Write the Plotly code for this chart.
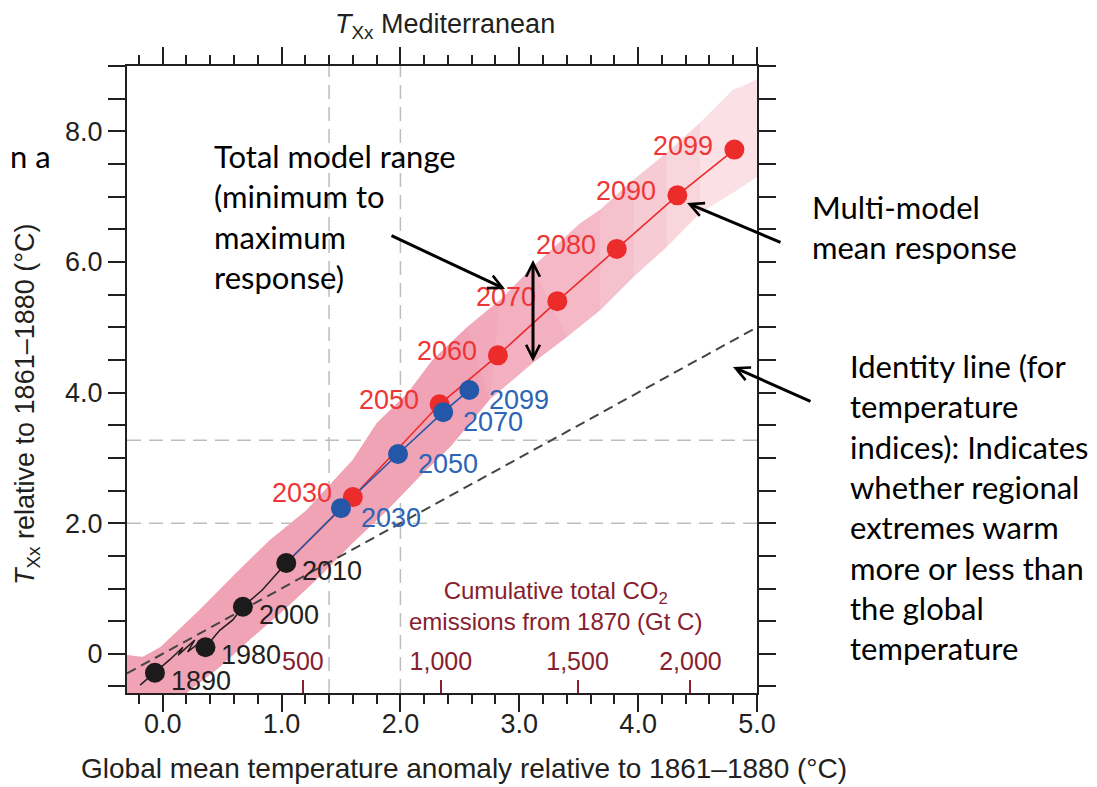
import plotly.graph_objects as go

# ---------------- data ----------------
hist_years = ["1890", "1980", "2000", "2010"]
hist_x = [-0.065, 0.36, 0.675, 1.04]
hist_y = [-0.29, 0.10, 0.72, 1.39]
hist_line_x = [-0.19, -0.065, 0.06, 0.17, 0.13, 0.27, 0.21, 0.31, 0.36, 0.48, 0.59, 0.675, 0.84, 1.04]
hist_line_y = [-0.48, -0.29, -0.09, 0.10, -0.02, 0.21, 0.03, 0.17, 0.10, 0.36, 0.52, 0.72, 0.98, 1.39]

rcp85_years = ["2030", "2050", "2060", "2070", "2080", "2090", "2099"]
rcp85_x = [1.60, 2.33, 2.82, 3.32, 3.82, 4.33, 4.81]
rcp85_y = [2.40, 3.82, 4.57, 5.40, 6.20, 7.02, 7.72]

rcp45_years = ["2030", "2050", "2070", "2099"]
rcp45_x = [1.50, 1.98, 2.36, 2.58]
rcp45_y = [2.23, 3.06, 3.70, 4.04]

band_upper_x = [-0.30, -0.17, -0.02, 0.31, 0.62, 0.90, 1.21, 1.47, 1.60, 1.80, 2.06, 2.27, 2.56, 2.84,
                3.11, 3.51, 3.68, 3.96, 4.24, 4.52, 4.80, 4.90, 5.00]
band_upper_y = [-0.02, -0.05, 0.10, 0.67, 1.24, 1.74, 2.20, 2.71, 2.97, 3.53, 3.99, 4.50, 5.00, 5.42,
                5.92, 6.59, 6.80, 7.26, 7.67, 8.13, 8.64, 8.71, 8.80]
band_lower_x = [5.00, 4.80, 4.52, 4.24, 3.96, 3.68, 3.40, 3.11, 2.75, 2.42, 2.16, 1.89, 1.60, 1.32,
                1.05, 0.76, 0.48, 0.20, -0.30]
band_lower_y = [7.30, 7.06, 6.75, 6.23, 5.77, 5.26, 4.85, 4.45, 3.89, 3.17, 2.71, 2.20, 1.70, 1.18,
                0.72, 0.26, -0.20, -0.60, -0.60]
band_shade_cuts = [4.6, 4.3, 4.0, 3.7, 3.4, 3.1, 2.8]

identity_x = [-0.30, 5.00]

co2_tick_labels = ["500", "1,000", "1,500", "2,000"]
co2_tick_pos = [1.18, 2.34, 3.49, 4.44]

x_tick_vals = [0, 1, 2, 3, 4, 5]
x_tick_text = ["0.0", "1.0", "2.0", "3.0", "4.0", "5.0"]
y_tick_vals = [0, 2, 4, 6, 8]
y_tick_text = ["0", "2.0", "4.0", "6.0", "8.0"]

ref_x = [1.4, 2.0]
ref_y = [2.0, 3.27]

X_RANGE = [-0.3, 5.0]
Y_RANGE = [-0.6, 9.0]

# ---------------- styles ----------------
INK = "#231F20"
RED = "#EC2B2B"
RED_TXT = "#EE3636"
BLUE = "#2457A8"
BLUE_TXT = "#2E64B6"
DARKRED = "#87202E"
FONT = "Liberation Sans, Arial, Helvetica, sans-serif"
NOTE_FONT = "Lato, Open Sans, sans-serif"
LBL = 27

fig = go.Figure()

# model range band (lighter at the top, deeper at the bottom)
fig.add_trace(go.Scatter(
    x=band_upper_x + band_lower_x, y=band_upper_y + band_lower_y,
    fill="toself", fillcolor="rgb(251,224,229)", line=dict(width=0),
    mode="lines", hoverinfo="skip", showlegend=False))
for cut in band_shade_cuts:
    ux = [v for v in band_upper_x if v <= cut]
    uy = [band_upper_y[i] for i, v in enumerate(band_upper_x) if v <= cut]
    lx = [v for v in band_lower_x if v <= cut]
    ly = [band_lower_y[i] for i, v in enumerate(band_lower_x) if v <= cut]
    fig.add_trace(go.Scatter(
        x=ux + lx, y=uy + ly, fill="toself", fillcolor="rgba(236,110,135,0.095)",
        line=dict(width=0), mode="lines", hoverinfo="skip", showlegend=False))

# identity line
fig.add_trace(go.Scatter(
    x=identity_x, y=identity_x, mode="lines",
    line=dict(color="#444444", width=2, dash="10px,6px"),
    hoverinfo="skip", showlegend=False))

# historical line
fig.add_trace(go.Scatter(
    x=hist_line_x, y=hist_line_y, mode="lines",
    line=dict(color=INK, width=1.5), hoverinfo="skip", showlegend=False))

# scenario lines
fig.add_trace(go.Scatter(
    x=[hist_x[-1]] + rcp85_x, y=[hist_y[-1]] + rcp85_y, mode="lines",
    line=dict(color=RED, width=1.6), hoverinfo="skip", showlegend=False))
fig.add_trace(go.Scatter(
    x=[hist_x[-1]] + rcp45_x, y=[hist_y[-1]] + rcp45_y, mode="lines",
    line=dict(color=BLUE, width=1.6), hoverinfo="skip", showlegend=False))

fig.add_trace(go.Scatter(
    x=rcp85_x, y=rcp85_y, mode="markers", marker=dict(color=RED, size=20),
    showlegend=False))
fig.add_trace(go.Scatter(
    x=rcp45_x, y=rcp45_y, mode="markers", marker=dict(color=BLUE, size=20),
    showlegend=False))
fig.add_trace(go.Scatter(
    x=hist_x, y=hist_y, mode="markers", marker=dict(color="#1C1A1B", size=20),
    showlegend=False))

# invisible trace to activate the CO2 axis
fig.add_trace(go.Scatter(x=co2_tick_pos, y=[None] * len(co2_tick_pos), xaxis="x2",
                         mode="markers", hoverinfo="skip", showlegend=False))

# reference dashed lines
for xv in ref_x:
    fig.add_shape(type="line", xref="x", yref="paper", x0=xv, x1=xv, y0=0, y1=1,
                  line=dict(color="#BDBDBD", width=1.5, dash="14px,8px"), layer="below")
for yv in ref_y:
    fig.add_shape(type="line", xref="paper", yref="y", x0=0, x1=1, y0=yv, y1=yv,
                  line=dict(color="#BDBDBD", width=1.5, dash="14px,8px"), layer="below")

annotations = []
# point labels
for t, xv, yv in zip(rcp85_years, rcp85_x, rcp85_y):
    annotations.append(dict(x=xv, y=yv, text=t, showarrow=False, xanchor="right", yanchor="middle",
                            xshift=-19, yshift=4, font=dict(color=RED_TXT, size=LBL, family=FONT)))
for t, xv, yv in zip(rcp45_years, rcp45_x, rcp45_y):
    annotations.append(dict(x=xv, y=yv, text=t, showarrow=False, xanchor="left", yanchor="middle",
                            xshift=18, yshift=-10, font=dict(color=BLUE_TXT, size=LBL, family=FONT)))
for t, xv, yv in zip(hist_years, hist_x, hist_y):
    annotations.append(dict(x=xv, y=yv, text=t, showarrow=False, xanchor="left", yanchor="middle",
                            xshift=14, yshift=-8, font=dict(color=INK, size=LBL, family=FONT)))


def px(xp):
    return (xp - 127) / 630.0


def py(yp):
    return (693 - yp) / 627.0


def txt(x, y, text, size, color=INK, family=FONT, **kw):
    d = dict(xref="paper", yref="paper", x=px(x), y=py(y), text=text, showarrow=False,
             xanchor="center", yanchor="middle", font=dict(size=size, family=family, color=color))
    d.update(kw)
    return d


# titles
annotations += [
    txt(445, 26, "<i>T</i><sub>Xx</sub> Mediterranean", 27),
    txt(464, 769, "Global mean temperature anomaly relative to 1861–1880 (°C)", 28),
    txt(27, 404, "<i>T</i><sub>Xx</sub> relative to 1861–1880 (°C)", 27, textangle=-90),
    txt(555, 606, "Cumulative total CO<sub>2</sub><br>emissions from 1870 (Gt C)", 24, color=DARKRED),
]

# explanatory notes
annotations += [
    txt(8, 135, "n a", 31, color="black", family=NOTE_FONT, xanchor="left", yanchor="top", align="left"),
    txt(212, 135, "Total model range<br>(minimum to<br>maximum<br>response)", 31, color="black",
        family=NOTE_FONT, xanchor="left", yanchor="top", align="left"),
    txt(810, 186, "Multi-model<br>mean response", 31, color="black",
        family=NOTE_FONT, xanchor="left", yanchor="top", align="left"),
    txt(848, 345, "Identity line (for<br>temperature<br>indices): Indicates<br>whether regional<br>"
                  "extremes warm<br>more or less than<br>the global<br>temperature", 31, color="black",
        family=NOTE_FONT, xanchor="left", yanchor="top", align="left"),
]

# arrows
arrow_style = dict(showarrow=True, arrowhead=5, arrowsize=0.9, arrowwidth=3, arrowcolor="black",
                   text="", xref="paper", yref="paper", standoff=0)
annotations += [
    dict(x=px(505), y=py(289), ax=390 - 505, ay=235 - 289, **arrow_style),
    dict(x=px(533), y=py(260), ax=0, ay=363 - 260, arrowside="end+start", startarrowhead=5,
         startarrowsize=0.9, **arrow_style),
    dict(x=px(687), y=py(203), ax=782 - 687, ay=243 - 203, **arrow_style),
    dict(x=px(733), y=py(367), ax=812 - 733, ay=402 - 367, **arrow_style),
]

axis_common = dict(showline=True, linewidth=2, linecolor=INK, mirror="allticks",
                   ticks="outside", tickwidth=2, tickcolor=INK, showgrid=False, zeroline=False,
                   tickfont=dict(size=LBL, family=FONT, color=INK))

# page body has an 8px margin: shift the figure so the plot lands where the reference has it
fig.update_layout(
    width=1089, height=779,
    margin=dict(l=119, r=340, t=58, b=94, pad=0),
    paper_bgcolor="white", plot_bgcolor="white",
    showlegend=False,
    font=dict(family=FONT, size=LBL, color=INK),
    xaxis=dict(range=X_RANGE, tickvals=x_tick_vals, ticktext=x_tick_text, ticklen=17,
               ticklabelstandoff=-11,
               minor=dict(dtick=0.2, tick0=0, ticks="outside", ticklen=9, tickwidth=2, tickcolor=INK),
               **axis_common),
    yaxis=dict(range=Y_RANGE, tickvals=y_tick_vals, ticktext=y_tick_text, ticklen=17,
               minor=dict(dtick=0.5, tick0=0, ticks="outside", ticklen=17, tickwidth=2, tickcolor=INK),
               **axis_common),
    # CO2 axis: a "top-side" axis placed on the bottom edge so ticks and labels point up into the plot
    xaxis2=dict(range=X_RANGE, overlaying="x", anchor="free", position=0, side="top",
                tickvals=co2_tick_pos, ticktext=co2_tick_labels, ticks="outside", ticklen=13,
                tickwidth=2, tickcolor=DARKRED,
                tickfont=dict(size=25, family=FONT, color=DARKRED),
                showline=False, showgrid=False, zeroline=False),
    annotations=annotations,
)

fig.write_html("out.html")
